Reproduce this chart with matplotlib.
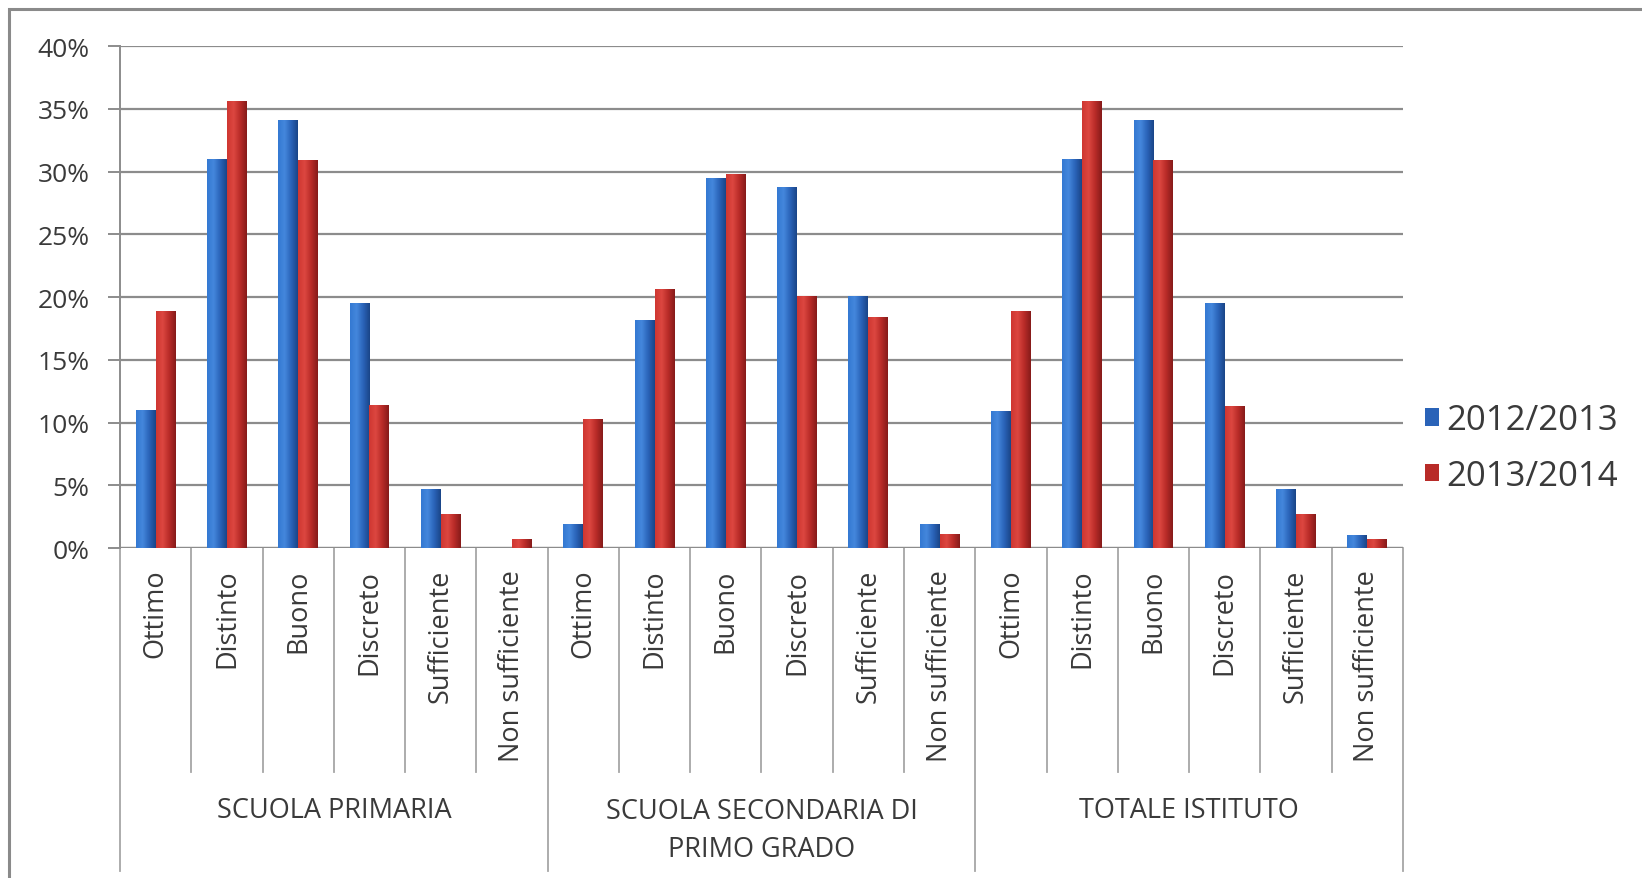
import numpy as np
import matplotlib
matplotlib.use("Agg")
import matplotlib.pyplot as plt
from matplotlib.patches import Rectangle
from matplotlib.colors import LinearSegmentedColormap
import matplotlib.transforms as mtransforms

plt.rcParams['font.family'] = ['Open Sans', 'DejaVu Sans']

# data (percentages)
groups = ["SCUOLA PRIMARIA", "SCUOLA SECONDARIA DI\nPRIMO GRADO", "TOTALE ISTITUTO"]
grades = ["Ottimo", "Distinto", "Buono", "Discreto", "Sufficiente", "Non sufficiente"]
series_names = ["2012/2013", "2013/2014"]

primaria_1213 = [11.0, 31.0, 34.1, 19.5, 4.7, 0.0]
primaria_1314 = [18.9, 35.6, 30.9, 11.4, 2.7, 0.7]
secondaria_1213 = [1.9, 18.2, 29.5, 28.8, 20.1, 1.9]
secondaria_1314 = [10.3, 20.6, 29.8, 20.1, 18.4, 1.1]
totale_1213 = [10.9, 31.0, 34.1, 19.5, 4.7, 1.0]
totale_1314 = [18.9, 35.6, 30.9, 11.3, 2.7, 0.7]

vals_a = np.array(primaria_1213 + secondaria_1213 + totale_1213) / 100
vals_b = np.array(primaria_1314 + secondaria_1314 + totale_1314) / 100
labels = grades * 3

txt = '#3a3a3a'
grid_c = '#8c8c8c'

fig = plt.figure(figsize=(16.42, 8.79), dpi=100)
fig.patch.set_facecolor('white')
ax = fig.add_axes([0.0731, 0.3754, 0.7813, 0.5711])

x = np.arange(len(labels))
w = 0.28

blue_cm = LinearSegmentedColormap.from_list('b', ['#3479d2', '#4487dc', '#2a63b8', '#1a4588'])
red_cm = LinearSegmentedColormap.from_list('r', ['#cf3631', '#dc4740', '#b82b28', '#861b1a'])
grad = np.linspace(0, 1, 64).reshape(1, -1)

bars_a = ax.bar(x - w / 2, vals_a, w, color='#2a63b8', label=series_names[0], zorder=3)
bars_b = ax.bar(x + w / 2, vals_b, w, color='#b82b28', label=series_names[1], zorder=3)

# cylinder-like shading
for bars, cm in ((bars_a, blue_cm), (bars_b, red_cm)):
    for b in bars:
        h = b.get_height()
        if h <= 0:
            continue
        x0 = b.get_x()
        im = ax.imshow(grad, extent=[x0, x0 + b.get_width(), 0, h], aspect='auto',
                       cmap=cm, zorder=4, interpolation='bilinear')
        im.set_clip_path(b)

ax.set_xlim(-0.5, len(labels) - 0.5)
ax.set_ylim(0, 0.40)
ax.set_yticks(np.arange(0, 0.41, 0.05))
ax.set_yticklabels([f"{int(round(v * 100))}%" for v in np.arange(0, 0.41, 0.05)])
ax.yaxis.grid(True, color=grid_c, lw=1.6, zorder=0)
ax.set_axisbelow(True)

for s in ['top', 'right', 'bottom']:
    ax.spines[s].set_visible(False)
ax.spines['left'].set_color(grid_c)
ax.spines['left'].set_linewidth(1.4)
ax.axhline(0, color=grid_c, lw=1.6, zorder=2)

ax.tick_params(axis='y', length=9, width=1.4, color=grid_c, labelsize=19,
               labelcolor=txt, pad=13)
ax.set_xticks(x)
ax.set_xticklabels(labels, rotation=90, va='top', ha='center')
ax.tick_params(axis='x', length=0, labelsize=19.5, labelcolor=txt, pad=15)

# separators under the axis
trans = mtransforms.blended_transform_factory(ax.transData, ax.transAxes)
for k in range(len(labels) + 1):
    xs = k - 0.5
    long_line = (k % 6 == 0)
    y_end = -0.643 if long_line else -0.446
    ax.plot([xs, xs], [0, y_end], transform=trans, color='#a6a6a6', lw=1.3,
            clip_on=False, zorder=1)

for i, g in enumerate(groups):
    ax.text(i * 6 + 2.5, -0.522 if '\n' not in g else -0.562, g, transform=trans,
            ha='center', va='center', fontsize=19.5, color=txt, linespacing=1.45)

leg = ax.legend(loc='center left', bbox_to_anchor=(1425 / 1642, (879 - 449) / 879),
                bbox_transform=fig.transFigure, frameon=False, fontsize=25,
                handlelength=0.4, handleheight=0.4, handletextpad=0.2, labelspacing=0.62,
                borderaxespad=0, borderpad=0)
for t in leg.get_texts():
    t.set_color(txt)

# outer chart frame
fig.patches.append(Rectangle((9 / 1642, -0.1), 1.2, 1.1 - 10 / 879, transform=fig.transFigure,
                             fill=False, edgecolor='#8a8a8a', lw=2.2))

fig.savefig('out.png', dpi=100)
